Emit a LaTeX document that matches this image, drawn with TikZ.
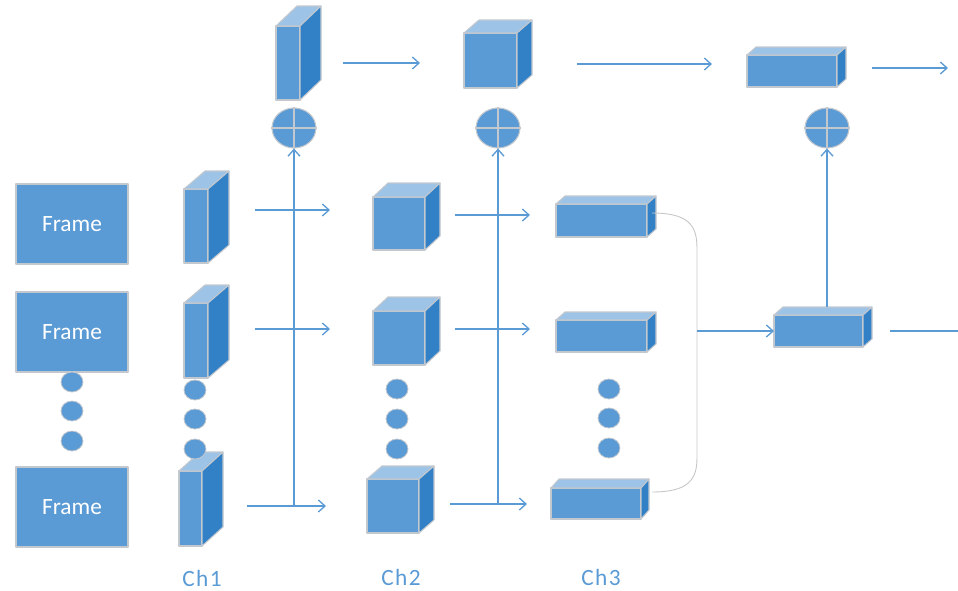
\documentclass[tikz,border=0pt]{standalone}
\usepackage{fontspec}
\setmainfont{Carlito}
\usetikzlibrary{arrows.meta,shapes.geometric}

\definecolor{frontc}{HTML}{5B9BD5}
\definecolor{topc}{HTML}{9DC3E6}
\definecolor{sidec}{HTML}{3281C7}
\definecolor{edgec}{HTML}{C3C8CE}
\definecolor{linec}{HTML}{5B9BD5}
\definecolor{curvec}{HTML}{C8C8C8}

\tikzset{
  face/.style={draw=edgec, line width=0.8pt, line join=round},
  frontface/.style={face, fill=frontc, rectangle, inner sep=0pt, outer sep=0pt},
  framebox/.style={frontface, minimum width=84pt, minimum height=60pt,
    text=white, font=\fontsize{17.5}{17.5}\selectfont},
  dot/.style={ellipse, fill=frontc, draw=edgec, line width=0.6pt,
    minimum width=16.5pt, minimum height=15pt, inner sep=0pt},
  sumnode/.style={ellipse, fill=frontc, draw=edgec, line width=0.8pt,
    minimum width=33pt, minimum height=30pt, inner sep=0pt},
  link/.style={draw=linec, line width=1pt},
  arr/.style={link, -{Straight Barb[length=5pt,width=9pt]}},
  joinline/.style={draw=curvec, line width=0.7pt},
  chlabel/.style={text=linec, font=\addfontfeature{LetterSpace=6}\fontsize{17.5}{17.5}\selectfont},
}

% cuboid: name, x1, y1, x2, y2 of the front face, depth dx, dy
\newcommand\cuboidnode[7]{%
  \node[frontface, minimum width={(#4-#2)*0.75pt}, minimum height={(#5-#3)*0.75pt}]
    (#1) at ({(#2+#4)/2},{(#3+#5)/2}) {};
  \filldraw[face, fill=topc] (#1.north west) -- ++(#6,-#7) -- ++({#4-#2},0)
    -- (#1.north east) -- cycle;
  \filldraw[face, fill=sidec] (#1.north east) -- ++(#6,-#7) -- ++(0,{#5-#3})
    -- (#1.south east) -- cycle;
}
% summation circle with a cross
\newcommand\sumcircle[3]{%
  \node[sumnode] (#1) at (#2,#3) {};
  \draw[edgec, line width=0.8pt] (#1.north) -- (#1.south) (#1.west) -- (#1.east);
}

\begin{document}
\begin{tikzpicture}[x=0.75pt, y=-0.75pt]
\useasboundingbox (0,0) rectangle (958,590);

% input frames
\node[framebox] (f1) at (72,224) {Frame};
\node[framebox] (f2) at (72,332) {Frame};
\node[framebox] (f3) at (72,507) {Frame};
\node[dot] (fd1) at (72,382) {};
\node[dot] (fd2) at (72,411) {};
\node[dot] (fd3) at (72,441) {};

% Ch1 blocks
\cuboidnode{a1}{184}{189}{208}{263}{21}{18}
\cuboidnode{a2}{184}{303}{208}{378}{21}{18}
\cuboidnode{a3}{179}{471}{202}{546}{21}{19}
\node[dot] (ad1) at (195,390) {};
\node[dot] (ad2) at (195,419) {};
\node[dot] (ad3) at (195,449) {};

% Ch2 blocks
\cuboidnode{b1}{373}{197}{425}{250}{15}{14}
\cuboidnode{b2}{373}{311}{425}{365}{15}{14}
\cuboidnode{b3}{367}{479}{419}{533}{15}{13}
\node[dot] (bd1) at (397,389) {};
\node[dot] (bd2) at (397,419) {};
\node[dot] (bd3) at (397,449) {};

% Ch3 blocks
\cuboidnode{c1}{556}{204}{647}{237}{9}{8}
\cuboidnode{c2}{556}{320}{647}{352}{9}{8}
\cuboidnode{c3}{551}{488}{641}{519}{8}{9}
\node[dot] (cd1) at (609,389) {};
\node[dot] (cd2) at (609,418) {};
\node[dot] (cd3) at (609,448) {};

% fused block
\cuboidnode{d}{774}{315}{863}{347}{9}{8}

% top row
\cuboidnode{ta}{276}{26}{300}{100}{21}{20}
\cuboidnode{tb}{464}{33}{517}{88}{15}{13}
\cuboidnode{tc}{747}{55}{837}{87}{9}{8}
\sumcircle{s1}{294}{128}
\sumcircle{s2}{498}{128}
\sumcircle{s3}{827}{128}

% channel labels
\node[chlabel] (l1) at (202,578) {Ch1};
\node[chlabel] (l2) at (401,577) {Ch2};
\node[chlabel] (l3) at (601,577) {Ch3};

% connector end points
\coordinate (p11) at (255,210); \coordinate (q11) at (330,210);
\coordinate (p12) at (255,329); \coordinate (q12) at (330,329);
\coordinate (p13) at (247,506); \coordinate (q13) at (326,506);
\coordinate (p21) at (455,215); \coordinate (q21) at (530,215);
\coordinate (p22) at (455,329); \coordinate (q22) at (530,329);
\coordinate (p23) at (450,504); \coordinate (q23) at (527,504);
\coordinate (j1) at (294,506);
\coordinate (j2) at (498,504);
\coordinate (pt1) at (343,63); \coordinate (qt1) at (420,63);
\coordinate (pt2) at (577,64); \coordinate (qt2) at (712,64);
\coordinate (pt3) at (872,68); \coordinate (qt3) at (948,68);
\coordinate (ctop) at (652,213);
\coordinate (cbot) at (652,492);
\coordinate (m) at (697,331);
\coordinate (dtop) at (827,307);
\coordinate (pout) at (890,331); \coordinate (qout) at (958,331);

% row arrows
\draw[arr] (p11) -- (q11);
\draw[arr] (p12) -- (q12);
\draw[arr] (p13) -- (q13);
\draw[arr] (p21) -- (q21);
\draw[arr] (p22) -- (q22);
\draw[arr] (p23) -- (q23);

% vertical feeds into the summations
\draw[arr] (j1) -- (s1.south);
\draw[arr] (j2) -- (s2.south);
\draw[arr] (dtop) -- (s3.south);

% top row arrows
\draw[arr] (pt1) -- (qt1);
\draw[arr] (pt2) -- (qt2);
\draw[arr] (pt3) -- (qt3);

% joining bracket of Ch3
\draw[joinline] (ctop) .. controls (688,213) and (697,225) .. (697,248)
  -- (697,458) .. controls (697,480) and (688,492) .. (cbot);
\draw[arr] (m) -- (d.west);
\draw[link] (pout) -- (qout);
\end{tikzpicture}
\end{document}
